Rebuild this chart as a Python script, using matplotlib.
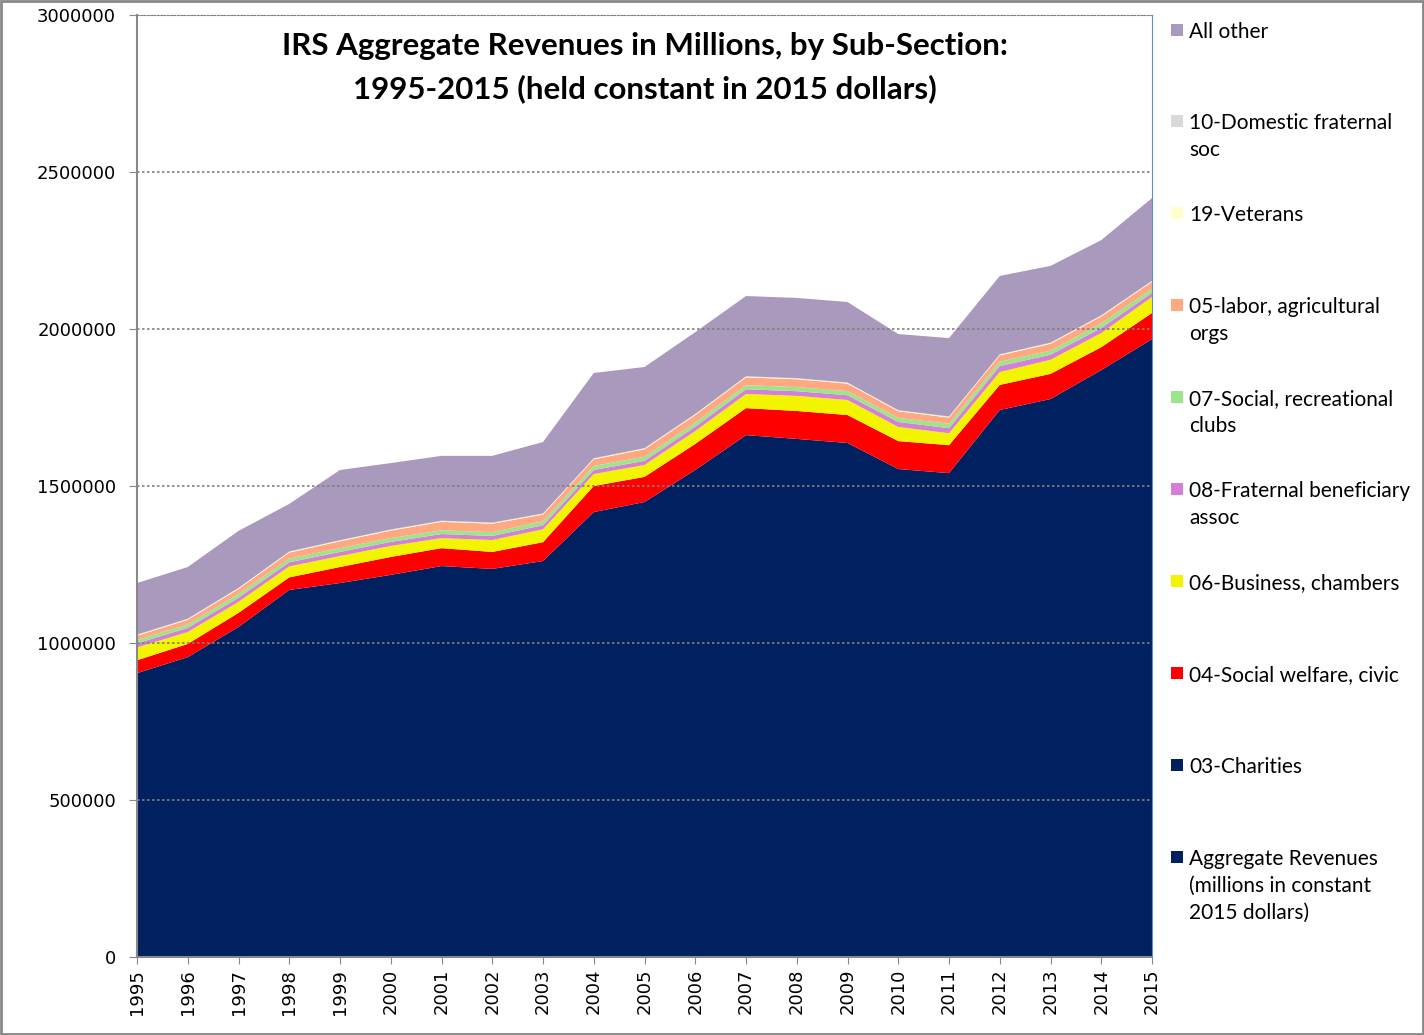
import matplotlib.pyplot as plt
from matplotlib.patches import Rectangle
from matplotlib.ticker import FuncFormatter

years = list(range(1995, 2016))

# values in millions of constant 2015 dollars
aggregate = [0] * 21
charities = [904000, 955000, 1051000, 1169000, 1191000, 1217000, 1245000, 1236000, 1261000, 1417000, 1449000,
             1551000, 1662000, 1650000, 1637000, 1554000, 1541000, 1742000, 1777000, 1869000, 1968000]
social_welfare = [41000, 42000, 45000, 40000, 51000, 57000, 57000, 54000, 60000, 83000, 80000,
                  83000, 86000, 89000, 89000, 89000, 89000, 80000, 80000, 73000, 83000]
business = [41000, 38000, 35000, 35000, 35000, 35000, 32000, 38000, 41000, 38000, 38000,
            41000, 45000, 48000, 48000, 45000, 38000, 41000, 45000, 45000, 51000]
fraternal_benef = [13000, 13000, 13000, 13000, 13000, 13000, 13000, 13000, 13000, 13000, 13000,
                   14000, 15000, 15000, 15000, 16000, 16000, 19000, 16000, 16000, 13000]
social_clubs = [11000, 11000, 12000, 12000, 12000, 12000, 12000, 12000, 13000, 13000, 13000,
                13000, 13000, 13000, 13000, 13000, 14000, 14000, 13000, 15000, 13000]
labor = [13000, 15000, 16000, 19000, 22000, 24000, 27000, 27000, 21000, 21000, 24000,
         24000, 25000, 25000, 24000, 21000, 20000, 20000, 22000, 22000, 22000]
veterans = [2000] * 21
domestic_frat = [1500] * 21
all_other = [164500, 164500, 181500, 151500, 223500, 211500, 206500, 212500, 227500, 271500, 258500,
             260500, 255500, 255500, 256500, 242500, 249500, 249500, 244500, 239500, 263500]

series = [aggregate, charities, social_welfare, business, fraternal_benef, social_clubs,
          labor, veterans, domestic_frat, all_other]
labels = ["Aggregate Revenues\n(millions in constant\n2015 dollars)", "03-Charities",
          "04-Social welfare, civic", "06-Business, chambers", "08-Fraternal beneficiary\nassoc",
          "07-Social, recreational\nclubs", "05-labor, agricultural\norgs", "19-Veterans",
          "10-Domestic fraternal\nsoc", "All other"]
colors = ["#002060", "#002060", "#FF0000", "#F3F500", "#D67FD6", "#9BE68A",
          "#FFA882", "#FFFFCC", "#D9D9D9", "#A899BD"]

fig = plt.figure(figsize=(14.24, 10.35), dpi=100)
ax = fig.add_axes([137 / 1424, 1 - 957 / 1035, (1152 - 137) / 1424, (957 - 15) / 1035])

ax.stackplot(years, *series, colors=colors, linewidth=0)

ax.set_xlim(1995, 2015)
ax.set_ylim(0, 3000000)
ax.set_yticks(range(0, 3000001, 500000))
ax.yaxis.set_major_formatter(FuncFormatter(lambda v, p: f"{int(v)}"))
ax.set_xticks(years)
ax.set_xticklabels([str(y) for y in years], rotation=90)
ax.tick_params(axis='both', labelsize=13, color='#888888', length=5, direction='out')
ax.tick_params(axis='y', length=6, pad=9)
ax.yaxis.grid(True, linestyle=(0, (1.5, 1.5)), color='#808080', linewidth=1.2)
for l in ax.get_ygridlines():
    l.set_zorder(0.5)

ax.spines['left'].set_color('#888888')
ax.spines['left'].set_linewidth(1.5)
ax.spines['bottom'].set_color('#888888')
ax.spines['bottom'].set_linewidth(1.5)
ax.spines['right'].set_color('#5B8FD0')
ax.spines['right'].set_linewidth(0.8)
ax.spines['top'].set_color('#808080')
ax.spines['top'].set_linestyle((0, (1.5, 1.5)))

ax.text(0.5, 0.982, "IRS Aggregate Revenues in Millions, by Sub-Section:\n1995-2015 (held constant in 2015 dollars)",
        transform=ax.transAxes, ha='center', va='top', fontsize=22.5, fontweight='bold',
        family='Lato', linespacing=1.6)

# legend drawn on the right, top entry first
legend_y = [30, 121, 213, 305, 397, 489, 581, 673, 765, 857]
for ypix, lab, col in zip(legend_y, labels[::-1], colors[::-1]):
    fig.add_artist(Rectangle((1171 / 1424, 1 - (ypix + 6) / 1035), 12 / 1424, 12 / 1035,
                             transform=fig.transFigure, facecolor=col, edgecolor='none'))
    fig.text(1189 / 1424, 1 - (ypix - 8) / 1035, lab, ha='left', va='top', fontsize=15,
             family='Lato', linespacing=1.43)

fig.add_artist(Rectangle((0.001, 0.001), 0.998, 0.998, transform=fig.transFigure,
                         facecolor='none', edgecolor='#888888', linewidth=2))

fig.savefig("out.png", dpi=100)
